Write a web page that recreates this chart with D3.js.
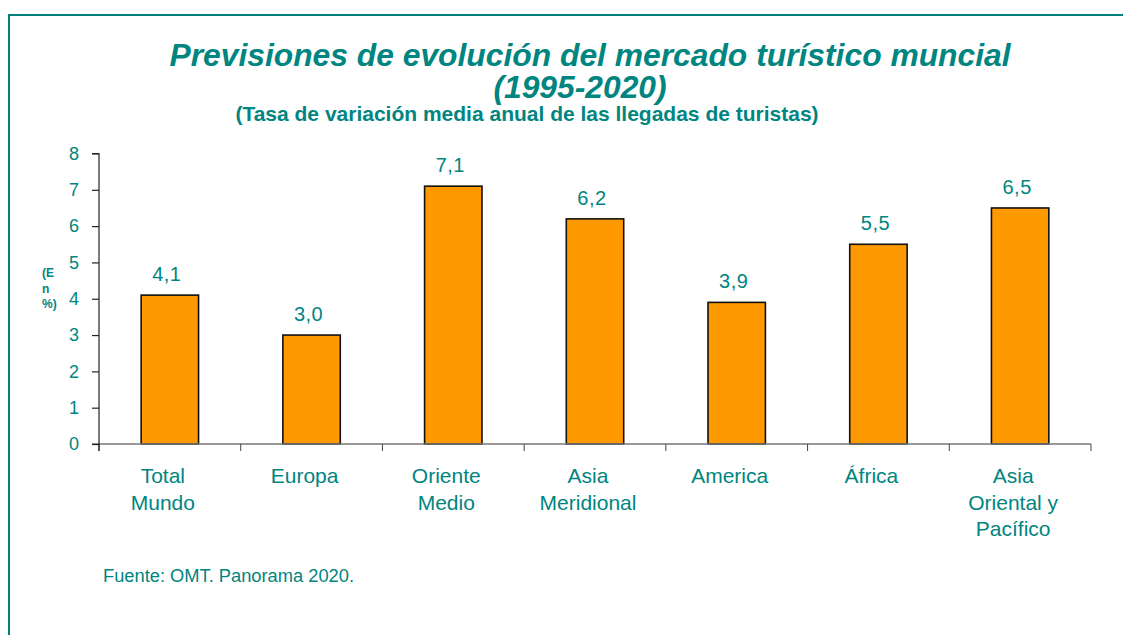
<!DOCTYPE html>
<html><head><meta charset="utf-8">
<script src="https://cdn.jsdelivr.net/npm/d3@7"></script>
<style>body{margin:0;background:#fff;}svg{display:block;font-family:"Liberation Sans",Arial,sans-serif;}</style>
</head><body>
<svg id="c" width="1123" height="635"></svg>
<script>
const categories = [["Total","Mundo"],["Europa"],["Oriente","Medio"],["Asia","Meridional"],["America"],["África"],["Asia","Oriental y","Pacífico"]];
const values = [4.1, 3.0, 7.1, 6.2, 3.9, 5.5, 6.5];
const valueLabels = ["4,1","3,0","7,1","6,2","3,9","5,5","6,5"];
const yTicks = [0,1,2,3,4,5,6,7,8];

(function(){
const teal = "#008580";
const svg = d3.select("#c");

svg.append("path").attr("d","M9,640 L9,15 L1130,15").attr("fill","none").attr("stroke","#00807a").attr("stroke-width",2);

const pl = 99, pr = 1091, pt = 153.5, pb = 444;
const x = d3.scaleBand().domain(d3.range(categories.length)).range([pl, pr]);
const y = d3.scaleLinear().domain([0, 8]).range([pb, pt]);
const barW = x.bandwidth() * 0.405;

svg.selectAll("rect.bar").data(values).join("rect")
  .attr("x",(d,i)=>x(i)+x.bandwidth()/2-barW/2)
  .attr("y",d=>y(d)).attr("width",barW).attr("height",d=>y(0)-y(d))
  .attr("fill","#FF9900").attr("stroke","#111").attr("stroke-width",1.6);

const xa = svg.append("g").attr("transform",`translate(0,${pb})`);
xa.append("line").attr("x1",92).attr("x2",pr).attr("y1",0).attr("y2",0).attr("stroke","#777").attr("stroke-width",1.3);
const bounds = d3.range(categories.length+1).map(i=> i<categories.length ? x(i) : pr);
xa.selectAll("line.t").data(bounds).join("line").attr("x1",d=>d).attr("x2",d=>d).attr("y1",0).attr("y2",7).attr("stroke","#444").attr("stroke-width",1);

const ya = svg.append("g").attr("transform",`translate(${pl},0)`).call(d3.axisLeft(y).tickValues(yTicks).tickSize(7).tickPadding(13).tickFormat(d3.format("d")));
ya.select(".domain").attr("d",`M-7,${pt}H0V${pb+7}`).attr("stroke","#222").attr("stroke-width",1.2);
ya.selectAll(".tick line").attr("stroke","#222").attr("stroke-width",1.2);
ya.selectAll(".tick text").attr("fill",teal).attr("font-size",18).attr("font-family","Liberation Sans, Arial, sans-serif");

svg.selectAll("text.val").data(values).join("text")
  .attr("x",(d,i)=>x(i)+x.bandwidth()/2-3).attr("y",d=>y(d)-14)
  .attr("text-anchor","middle").attr("fill",teal).attr("font-size",20).attr("letter-spacing",0.5)
  .text((d,i)=>valueLabels[i]);

const cl = svg.selectAll("text.cat").data(categories).join("text")
  .attr("text-anchor","middle").attr("fill",teal).attr("font-size",21);
cl.each(function(lines,i){
  const t=d3.select(this);
  lines.forEach((l,j)=>t.append("tspan").attr("x",x(i)+x.bandwidth()/2-7).attr("y",483+j*26.5).text(l));
});

svg.append("text").attr("x",590).attr("y",66).attr("text-anchor","middle").attr("fill",teal)
  .attr("font-size",31.8).attr("font-weight","bold").attr("font-style","italic")
  .text("Previsiones de evolución del mercado turístico muncial");
svg.append("text").attr("x",580).attr("y",98).attr("text-anchor","middle").attr("fill",teal)
  .attr("font-size",31.8).attr("font-weight","bold").attr("font-style","italic").text("(1995-2020)");
svg.append("text").attr("x",527).attr("y",121).attr("text-anchor","middle").attr("fill",teal)
  .attr("font-size",21).attr("font-weight","bold")
  .text("(Tasa de variación media anual de las llegadas de turistas)");

["(E","n","%)"].forEach((s,j)=>svg.append("text").attr("x",42).attr("y",277+j*15.5).attr("fill",teal)
  .attr("font-size",12).attr("font-weight","bold").text(s));

svg.append("text").attr("x",103).attr("y",582).attr("fill",teal).attr("font-size",18.3).text("Fuente: OMT. Panorama 2020.");
})();
</script>
</body></html>
